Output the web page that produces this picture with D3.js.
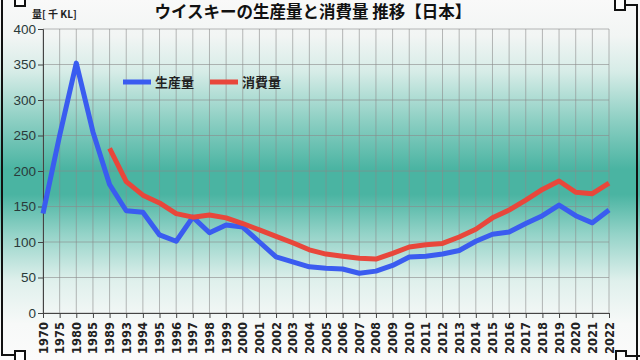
<!DOCTYPE html>
<html><head><meta charset="utf-8">
<script src="https://cdn.jsdelivr.net/npm/d3@7"></script>
<style>html,body{margin:0;padding:0;background:#fff;}svg{display:block;}</style>
</head><body>
<svg id="c" width="640" height="360"></svg>
<script>
const years = ["1970","1975","1980","1985","1989","1993","1994","1995","1996","1997","1998","1999","2000","2001","2002","2003","2004","2005","2006","2007","2008","2009","2010","2011","2012","2013","2014","2015","2016","2017","2018","2019","2020","2021","2022"];
const production = [140,250,352,255,181,144,142,110,101,135,113,124,121,100,79,72,65,63,62,56,59,67,79,80,83,88,101,111,114,126,137,152,137,127,145];
const consumption = [null,null,null,null,232,185,166,155,140,135,138,134,126,117,108,99,89,83,80,77,76,84,93,96,98,107,118,134,145,159,174,186,170,168,183];
const yTicks = [0,50,100,150,200,250,300,350,400];
const seriesNames = ["生産量","消費量"];
const colors = ["#3a5cf0","#e8473b"];
const title = "ウイスキーの生産量と消費量 推移【日本】";
const unitLabel = "量[ 千 KL]";

const svg = d3.select("#c");
const W = 640, H = 360;
const m = {l:43, r:31, t:29, b:47};
const font = "'Noto Sans CJK JP', 'Noto Sans', sans-serif";

// background gradient
const defs = svg.append("defs");
const g = defs.append("linearGradient").attr("id","bg").attr("x1",0).attr("y1",0).attr("x2",0).attr("y2",1);
[[0,"#f9f9f9"],[0.1,"#f2f5f4"],[0.2,"#d6ece7"],[0.33,"#8fd0c4"],[0.47,"#4ab4a2"],[0.54,"#4ab4a2"],[0.65,"#94d3c8"],[0.78,"#dff0ec"],[0.9,"#f7f9f8"],[1,"#fbfbfb"]]
 .forEach(([o,c])=>g.append("stop").attr("offset",o).attr("stop-color",c));
svg.append("rect").attr("width",W).attr("height",H).attr("fill","url(#bg)");

const x = d3.scalePoint().domain(years).range([m.l, W-m.r]);
const y = d3.scaleLinear().domain([0,400]).range([H-m.b, m.t]);

// grid
svg.append("g").selectAll("line").data(years).join("line")
  .attr("x1",d=>x(d)).attr("x2",d=>x(d)).attr("y1",y(400)).attr("y2",y(0))
  .attr("stroke","#8a8a8a").attr("stroke-opacity",0.6).attr("stroke-width",1);
svg.append("g").selectAll("line").data(yTicks).join("line")
  .attr("x1",m.l).attr("x2",W-m.r).attr("y1",d=>y(d)).attr("y2",d=>y(d))
  .attr("stroke","#8a8a8a").attr("stroke-opacity",0.6).attr("stroke-width",1);

// axes
const ya = svg.append("g").attr("transform",`translate(${m.l},0)`)
  .call(d3.axisLeft(y).tickValues(yTicks).tickSize(5).tickPadding(2));
ya.selectAll("text").attr("font-family","'Liberation Sans', Arial, sans-serif").attr("font-size",13.5).attr("fill","#2a3a3a");
ya.selectAll("line,path").attr("stroke","#444");

const xa = svg.append("g").attr("transform",`translate(0,${y(0)})`)
  .call(d3.axisBottom(x).tickSize(5).tickSizeOuter(0));
xa.selectAll("line,path").attr("stroke","#444");
xa.selectAll("text").attr("font-family","'DejaVu Sans', sans-serif").attr("font-weight","bold").attr("font-size",11.5).attr("fill","#222")
  .attr("transform","rotate(-90)").attr("text-anchor","end").attr("x",-9).attr("y",0).attr("dy","0.35em");

// lines
const line = d3.line().defined(d=>d.v!=null).x(d=>x(d.k)).y(d=>y(d.v));
[production, consumption].forEach((arr,i)=>{
  svg.append("path").datum(years.map((k,j)=>({k, v:arr[j]})))
    .attr("d",line).attr("fill","none").attr("stroke",colors[i]).attr("stroke-width",5).attr("stroke-linejoin","round");
});

// legend
const lg = [{x:123},{x:210}];
lg.forEach((p,i)=>{
  svg.append("line").attr("x1",p.x).attr("x2",p.x+28).attr("y1",82).attr("y2",82).attr("stroke",colors[i]).attr("stroke-width",5);
  svg.append("text").attr("x",p.x+32).attr("y",87).text(seriesNames[i])
    .attr("font-family",font).attr("font-weight","bold").attr("font-size",13).attr("fill","#222");
});

// title
svg.append("text").attr("x",313).attr("y",18).attr("text-anchor","middle").text(title)
  .attr("font-family",font).attr("font-weight","bold").attr("font-size",16.5).attr("fill","#111");
svg.append("text").attr("x",32).attr("y",18).text(unitLabel)
  .attr("font-family",font).attr("font-weight","bold").attr("font-size",10).attr("fill","#222");

// frame decorations
const fr = svg.append("g").attr("fill","none").attr("stroke","#111").attr("stroke-width",2);
fr.append("path").attr("d","M2,0 V355 H15");
fr.append("rect").attr("x",15).attr("y",-2).attr("width",10).attr("height",8).attr("fill","#fff");
fr.append("rect").attr("x",15).attr("y",351).attr("width",10).attr("height",12).attr("fill","#fff");
fr.append("path").attr("d","M625,5 H637 V360");
fr.append("rect").attr("x",615).attr("y",-2).attr("width",10).attr("height",12).attr("fill","#fff");
fr.append("path").attr("d","M616,362 V351 H626 V356 H640");
</script>
</body></html>
